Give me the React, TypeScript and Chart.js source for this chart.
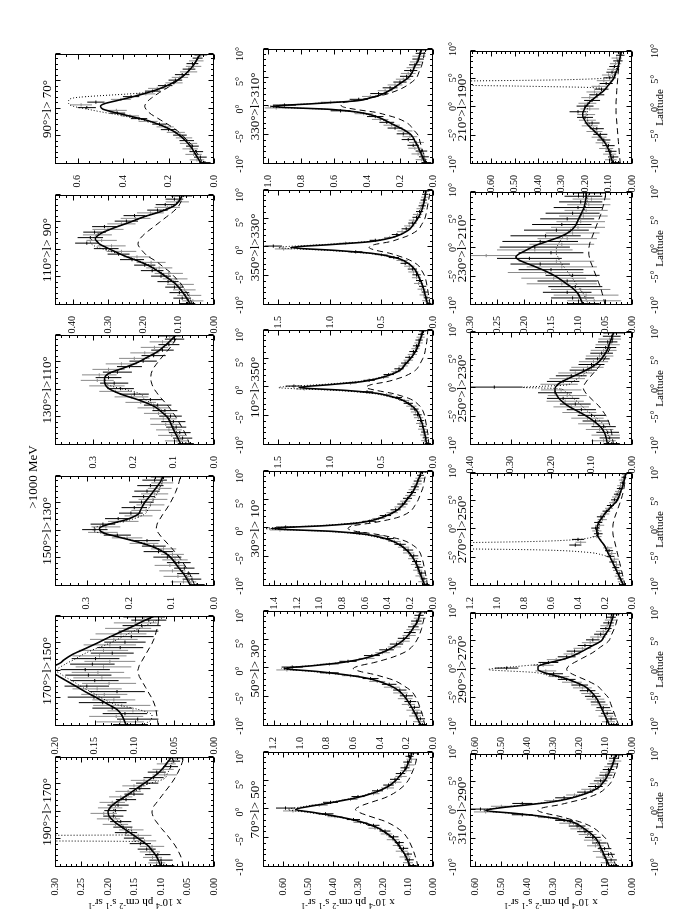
import React, { useEffect, useRef } from 'react';
import { Chart, registerables } from 'chart.js';

Chart.register(...registerables);

const FONT = "'Liberation Serif', 'Times New Roman', serif";
const INK = '#000000';
const GREY = '#8a8a8a';

// ---------- axis values ----------
const LAT_MIN = -10;
const LAT_MAX = 10;
const LAT_C = [-10, -9, -8, -7, -6, -5, -4, -3, -2, -1.5, -1, -0.5, 0, 0.5, 1, 1.5, 2, 3, 4, 5, 6, 7, 8, 9, 10];
const LAT_D = [-9.75, -9.25, -8.75, -8.25, -7.75, -7.25, -6.75, -6.25, -5.75, -5.25, -4.75, -4.25, -3.75, -3.25, -2.75, -2.25, -1.75, -1.25, -0.75, -0.25,
  0.25, 0.75, 1.25, 1.75, 2.25, 2.75, 3.25, 3.75, 4.25, 4.75, 5.25, 5.75, 6.25, 6.75, 7.25, 7.75, 8.25, 8.75, 9.25, 9.75];

const TITLES = ['190°>l>170°', '170°>l>150°', '150°>l>130°', '130°>l>110°', '110°>l> 90°', '90°>l> 70°',
  '70°>l> 50°', '50°>l> 30°', '30°>l> 10°', '10°>l>350°', '350°>l>330°', '330°>l>310°',
  '310°>l>290°', '290°>l>270°', '270°>l>250°', '250°>l>230°', '230°>l>210°', '210°>l>190°'];
const Y_MAX = [0.30, 0.20, 0.375, 0.395, 0.45, 0.70, 0.68, 1.28, 1.5, 1.65, 1.65, 1.03, 0.62, 0.62, 1.2, 0.40, 0.30, 0.69];
const Y_STEP = [0.05, 0.05, 0.1, 0.1, 0.1, 0.2, 0.1, 0.2, 0.2, 0.5, 0.5, 0.2, 0.1, 0.1, 0.2, 0.1, 0.05, 0.1];
const Y_MINOR = [0.01, 0.01, 0.02, 0.02, 0.02, 0.05, 0.02, 0.05, 0.05, 0.1, 0.1, 0.05, 0.02, 0.02, 0.05, 0.02, 0.01, 0.02];
const Y_DEC = [2, 2, 1, 1, 2, 1, 2, 1, 1, 1, 1, 1, 2, 2, 1, 2, 2, 2];

// ---------- model curves (solid), component (dashed), component (dotted) ----------
const SOLID_1 = [.100,.104,.109,.117,.126,.140,.155,.170,.185,.191,.196,.199,.200,.198,.194,.188,.181,.165,.150,.135,.120,.106,.096,.088,.080];
const DASH_1 = [.058,.060,.063,.068,.074,.082,.090,.099,.107,.111,.114,.116,.117,.116,.114,.110,.106,.098,.090,.082,.075,.069,.064,.060,.057];
const DOTX_1 = [-10,-9,-8,-7,-6,-5.6,-5.35,-5.2,-4.3,-4.15,-3.8,-3,-2,-1,0,1,2,3,4,5,5.5,6,7,8,9,10];
const DOT_1 = [.100,.104,.108,.115,.125,.135,.150,.40,.40,.150,.150,.165,.178,.186,.190,.186,.177,.162,.145,.128,.110,.095,.088,.083,.079,.075];

const SOLID_2 = [.110,.113,.116,.122,.134,.146,.159,.171,.183,.189,.195,.201,.215,.212,.200,.193,.189,.178,.163,.148,.134,.119,.104,.090,.075];
const DASH_2 = [.070,.071,.072,.073,.075,.078,.082,.086,.090,.092,.094,.095,.096,.095,.094,.092,.090,.086,.082,.078,.075,.073,.071,.070,.069];
const DOT_2 = [.095,.080,.078,.095,.125,.140,.152,.165,.176,.182,.188,.193,.198,.196,.190,.184,.177,.165,.150,.132,.118,.105,.090,.075,.060];

const SOLID_3 = [.055,.062,.070,.080,.090,.100,.115,.140,.180,.205,.230,.255,.268,.270,.258,.235,.210,.180,.172,.165,.155,.145,.135,.126,.120];
const DASH_3 = [.045,.050,.056,.063,.071,.080,.090,.101,.113,.119,.125,.130,.134,.136,.135,.133,.129,.121,.112,.104,.097,.091,.086,.082,.079];
const DOT_3 = [.050,.058,.066,.076,.087,.098,.112,.137,.175,.200,.228,.258,.285,.285,.262,.232,.200,.165,.155,.148,.140,.133,.127,.122,.118];

const SOLID_4 = [.082,.088,.095,.102,.108,.115,.130,.148,.180,.200,.222,.240,.255,.265,.270,.272,.272,.262,.225,.190,.165,.140,.123,.108,.095];
const DASH_4 = [.060,.065,.071,.078,.086,.094,.103,.113,.125,.131,.137,.142,.147,.151,.154,.156,.157,.156,.150,.140,.129,.117,.106,.097,.090];
const DOT_4 = [.075,.082,.090,.098,.105,.112,.125,.140,.165,.175,.178,.190,.215,.245,.265,.270,.270,.258,.225,.190,.162,.138,.120,.106,.094];

const SOLID_5 = [.066,.075,.085,.097,.112,.133,.155,.180,.215,.236,.256,.273,.290,.306,.322,.330,.336,.320,.284,.240,.200,.150,.114,.097,.090];
const DASH_5 = [.060,.067,.075,.085,.095,.110,.125,.145,.165,.178,.190,.198,.205,.211,.215,.214,.210,.195,.175,.155,.135,.115,.100,.092,.085];
const DOT_5 = [.062,.072,.082,.094,.108,.128,.150,.175,.210,.232,.255,.280,.305,.330,.345,.350,.345,.325,.285,.240,.198,.155,.120,.100,.092];

const SOLID_6 = [.055,.070,.085,.100,.120,.145,.180,.230,.300,.350,.400,.450,.490,.500,.480,.430,.380,.290,.220,.170,.135,.110,.090,.075,.060];
const DASH_6 = [.050,.060,.075,.090,.110,.135,.160,.195,.235,.255,.275,.290,.300,.305,.300,.290,.275,.240,.200,.165,.135,.110,.090,.075,.065];
const DOT_6 = [.052,.068,.083,.098,.118,.142,.178,.230,.310,.370,.430,.500,.560,.620,.640,.640,.620,.300,.225,.175,.138,.110,.090,.075,.060];

const SOLID_7 = [.090,.100,.110,.125,.140,.160,.190,.230,.300,.350,.410,.480,.550,.500,.430,.370,.310,.230,.180,.150,.130,.110,.100,.090,.085];
const DASH_7 = [.060,.065,.072,.080,.090,.102,.120,.150,.195,.230,.265,.295,.310,.295,.265,.230,.195,.150,.120,.100,.088,.078,.070,.065,.060];
const DOT_7 = [.092,.102,.113,.128,.145,.165,.196,.240,.310,.360,.420,.500,.580,.520,.440,.380,.320,.235,.185,.152,.130,.112,.100,.090,.085];

const SOLID_8 = [.090,.110,.130,.155,.180,.210,.250,.320,.440,.540,.690,.880,1.12,.900,.700,.570,.480,.360,.280,.220,.180,.150,.120,.105,.090];
const DASH_8 = [.060,.070,.080,.095,.110,.130,.160,.220,.300,.370,.450,.550,.600,.550,.450,.370,.300,.200,.150,.120,.100,.085,.075,.065,.060];
const DOT_8 = [.090,.110,.130,.155,.180,.210,.250,.320,.440,.550,.710,.920,1.14,.920,.710,.570,.480,.360,.280,.220,.180,.150,.120,.105,.090];

const SOLID_9 = [.070,.090,.110,.130,.150,.180,.220,.280,.380,.470,.600,.880,1.43,.950,.650,.520,.440,.330,.270,.230,.190,.160,.140,.120,.100];
const DASH_9 = [.050,.055,.065,.075,.085,.100,.120,.170,.270,.370,.500,.680,.750,.700,.530,.400,.300,.200,.160,.130,.110,.090,.080,.070,.060];
const DOT_9 = [.075,.095,.115,.135,.155,.185,.225,.290,.400,.500,.640,.950,1.48,1.00,.680,.540,.450,.340,.280,.235,.195,.165,.140,.120,.100];

const SOLID_10 = [.060,.070,.080,.095,.110,.130,.160,.220,.320,.420,.550,.850,1.30,1.00,.700,.550,.450,.320,.270,.220,.180,.150,.130,.110,.100];
const DASH_10 = [.040,.045,.050,.060,.070,.080,.100,.140,.220,.300,.400,.550,.650,.600,.450,.350,.270,.170,.130,.100,.080,.070,.060,.055,.050];
const DOT_10 = [.060,.070,.080,.095,.110,.130,.165,.230,.340,.450,.600,.950,1.50,1.10,.750,.580,.470,.330,.270,.220,.180,.150,.130,.110,.100];

const SOLID_11 = [.050,.065,.080,.095,.115,.140,.170,.220,.320,.430,.600,.950,1.38,1.00,.620,.450,.350,.240,.190,.150,.120,.100,.085,.075,.070];
const DASH_11 = [.030,.035,.045,.055,.065,.080,.110,.150,.250,.330,.420,.550,.620,.570,.420,.330,.250,.150,.110,.080,.065,.055,.045,.035,.030];
const DOT_11 = [.050,.065,.080,.095,.115,.140,.170,.225,.330,.450,.640,1.02,1.50,1.08,.660,.470,.360,.245,.190,.150,.120,.100,.085,.075,.070];

const SOLID_12 = [.045,.060,.075,.090,.110,.130,.180,.250,.320,.370,.450,.620,.980,.720,.460,.380,.320,.250,.200,.150,.125,.110,.090,.080,.070];
const DASH_12 = [.040,.050,.060,.070,.080,.090,.120,.150,.220,.280,.350,.470,.550,.560,.480,.380,.300,.200,.140,.100,.085,.070,.060,.055,.050];
const DOT_12 = [.050,.065,.080,.095,.115,.135,.185,.255,.330,.380,.460,.640,1.00,.740,.470,.385,.325,.255,.200,.155,.128,.110,.092,.082,.072];

const SOLID_13 = [.085,.095,.105,.115,.125,.137,.160,.190,.230,.280,.350,.450,.560,.500,.400,.310,.250,.176,.130,.110,.095,.085,.075,.068,.060];
const DASH_13 = [.060,.068,.076,.085,.092,.100,.122,.150,.200,.240,.280,.330,.360,.340,.280,.235,.190,.130,.100,.080,.070,.062,.056,.052,.050];
const DOT_13 = [.090,.100,.110,.120,.132,.145,.170,.200,.245,.290,.360,.460,.570,.510,.410,.320,.260,.185,.140,.115,.100,.088,.078,.070,.062];

const SOLID_14 = [.085,.095,.105,.115,.125,.137,.155,.180,.230,.260,.300,.340,.360,.360,.335,.290,.250,.200,.160,.120,.105,.090,.082,.075,.070];
const DASH_14 = [.050,.058,.066,.074,.082,.090,.110,.130,.170,.195,.220,.240,.250,.245,.230,.210,.190,.150,.120,.090,.080,.070,.062,.056,.050];
const DOT_14 = [.085,.095,.105,.115,.125,.137,.155,.180,.230,.270,.320,.380,.550,.450,.340,.290,.250,.200,.160,.120,.105,.090,.082,.075,.070];

const SOLID_15 = [.060,.080,.100,.120,.140,.160,.180,.200,.230,.245,.255,.260,.260,.258,.250,.240,.225,.195,.155,.115,.095,.080,.065,.055,.045];
const DASH_15 = [.050,.060,.070,.080,.090,.100,.110,.120,.130,.135,.140,.142,.143,.142,.140,.135,.130,.115,.100,.085,.072,.062,.055,.050,.045];
const DOTX_15 = [-10,-8,-6,-5,-4.5,-4,-3.6,-3.3,-2.5,-2.1,-1.8,-1.5,-1,0,1,2,3,4,5,6,8,10];
const DOT_15 = [.060,.100,.140,.170,.220,.350,.700,1.50,1.50,.700,.420,.320,.260,.250,.240,.215,.190,.150,.110,.090,.065,.045];

const SOLID_16 = [.060,.063,.067,.075,.090,.110,.135,.160,.177,.183,.187,.190,.190,.186,.178,.165,.150,.120,.095,.078,.068,.060,.055,.050,.045];
const DASH_16 = [.045,.048,.050,.053,.057,.063,.072,.083,.098,.105,.112,.117,.120,.119,.115,.110,.104,.092,.080,.070,.062,.055,.050,.047,.045];
const DOTX_16 = [-10,-8,-6,-4,-3,-2,-1,-0.5,0,0.2,0.4,0.6,1,2,3,4,6,8,10];
const DOT_16 = [.055,.060,.075,.110,.125,.140,.155,.165,.185,.270,.220,.165,.150,.130,.110,.090,.070,.055,.045];

const SOLID_17 = [.090,.095,.100,.110,.125,.140,.160,.185,.210,.215,.210,.200,.190,.180,.165,.150,.135,.115,.105,.100,.095,.090,.087,.085,.085];
const DASH_17 = [.050,.052,.055,.058,.062,.066,.070,.074,.078,.079,.080,.080,.080,.079,.078,.076,.074,.070,.066,.062,.058,.055,.052,.050,.048];
const DOT_17 = [.080,.085,.090,.098,.105,.112,.120,.128,.135,.137,.140,.140,.140,.138,.135,.132,.128,.118,.108,.100,.093,.088,.084,.082,.080];

const SOLID_18 = [.080,.088,.095,.105,.120,.140,.165,.190,.205,.210,.210,.205,.200,.190,.180,.165,.150,.120,.100,.080,.070,.060,.055,.050,.045];
const DASH_18 = [.050,.052,.054,.056,.058,.060,.062,.064,.066,.067,.068,.068,.068,.068,.068,.067,.066,.065,.063,.061,.059,.057,.054,.052,.050];
const DOTX_18 = [-10,-8,-6,-4,-2,0,1,2,3,3.5,3.8,4.0,4.6,4.9,5.3,6,8,10];
const DOT_18 = [.075,.090,.115,.155,.190,.190,.175,.150,.130,.160,.500,.800,.800,.300,.100,.075,.055,.045];

// ---------- measured intensities and their errors (at LAT_D) ----------
const DATA_1 = [.095,.108,.100,.116,.106,.121,.127,.117,.139,.131,.151,.143,.166,.156,.172,.186,.176,.199,.190,.208,.186,.196,.181,.192,.166,.176,.151,.162,.140,.151,.126,.132,.114,.093,.108,.096,.082,.090,.076,.072];
const ERR_1 = [.020,.016,.022,.018,.024,.019,.017,.023,.020,.022,.019,.025,.021,.023,.018,.024,.020,.022,.019,.025,.021,.023,.020,.024,.019,.022,.018,.024,.020,.022,.021,.025,.019,.023,.017,.020,.014,.018,.012,.015];
const DATA_2 = [.105,.118,.096,.123,.112,.102,.128,.116,.140,.126,.151,.138,.122,.147,.160,.132,.150,.141,.158,.146,.162,.139,.153,.131,.149,.144,.128,.139,.118,.131,.112,.126,.104,.117,.095,.108,.091,.099,.082,.088];
const ERR_2 = [.022,.030,.026,.034,.028,.032,.025,.036,.030,.027,.033,.029,.035,.031,.028,.034,.030,.036,.029,.033,.031,.035,.028,.032,.030,.034,.027,.031,.029,.033,.026,.030,.028,.032,.025,.029,.024,.027,.022,.026];
const DATA_3 = [.040,.072,.052,.085,.061,.098,.070,.104,.083,.092,.110,.098,.131,.119,.142,.165,.158,.205,.228,.262,.281,.255,.262,.214,.226,.178,.196,.160,.188,.150,.171,.144,.166,.140,.158,.128,.150,.122,.140,.125];
const ERR_3 = [.018,.030,.022,.034,.026,.031,.024,.036,.028,.030,.033,.027,.035,.030,.028,.034,.030,.036,.032,.035,.030,.034,.029,.036,.031,.033,.028,.035,.030,.033,.029,.034,.027,.032,.030,.028,.031,.026,.029,.024];
const DATA_4 = [.070,.092,.078,.105,.085,.112,.094,.120,.101,.126,.108,.138,.122,.150,.140,.182,.158,.205,.198,.245,.232,.266,.248,.290,.262,.285,.240,.262,.210,.230,.176,.198,.150,.172,.128,.148,.112,.128,.098,.110];
const ERR_4 = [.020,.030,.024,.034,.027,.032,.025,.038,.030,.033,.028,.036,.031,.040,.034,.038,.030,.042,.036,.040,.033,.044,.035,.041,.032,.043,.036,.040,.031,.039,.034,.038,.030,.036,.028,.034,.026,.032,.024,.028];
const DATA_5 = [.075,.060,.090,.070,.098,.084,.112,.095,.130,.110,.150,.128,.175,.155,.196,.178,.232,.218,.270,.262,.305,.290,.360,.318,.350,.330,.338,.300,.310,.262,.248,.222,.225,.180,.160,.132,.138,.104,.112,.092];
const ERR_5 = [.022,.030,.025,.034,.028,.032,.026,.038,.030,.035,.028,.040,.032,.037,.030,.041,.034,.038,.031,.042,.035,.040,.033,.043,.036,.041,.032,.044,.035,.040,.033,.042,.031,.038,.029,.036,.027,.033,.025,.030];
const DATA_6 = [.040,.075,.060,.090,.078,.105,.095,.112,.120,.132,.150,.168,.200,.215,.240,.290,.330,.370,.425,.430,.560,.585,.520,.410,.365,.300,.270,.250,.215,.176,.170,.150,.140,.112,.110,.090,.095,.078,.072,.058];
const ERR_6 = [.025,.032,.028,.036,.030,.034,.028,.038,.032,.036,.030,.040,.034,.038,.032,.042,.036,.040,.034,.046,.040,.048,.038,.044,.036,.042,.034,.040,.032,.038,.030,.036,.032,.038,.028,.034,.026,.032,.022,.028];
const DATA_7 = [.080,.100,.095,.112,.100,.125,.118,.140,.135,.160,.158,.186,.192,.232,.238,.290,.318,.392,.430,.560,.590,.455,.410,.330,.300,.238,.222,.182,.178,.150,.152,.128,.130,.108,.112,.095,.102,.086,.094,.080];
const ERR_7 = [.015,.020,.018,.022,.016,.024,.019,.021,.018,.025,.020,.023,.022,.026,.024,.028,.026,.030,.032,.040,.038,.034,.030,.028,.026,.024,.022,.026,.021,.024,.020,.023,.019,.022,.018,.021,.017,.020,.016,.019];
const DATA_8 = [.080,.110,.095,.135,.120,.150,.140,.185,.170,.210,.200,.245,.250,.310,.330,.420,.470,.620,.780,1.10,1.06,.780,.640,.500,.460,.380,.350,.290,.275,.225,.220,.180,.175,.150,.148,.122,.125,.100,.105,.085];
const ERR_8 = [.03,.04,.035,.045,.04,.05,.04,.05,.045,.055,.05,.055,.05,.06,.055,.06,.06,.065,.07,.08,.08,.07,.065,.06,.06,.055,.055,.05,.05,.05,.045,.05,.045,.05,.04,.045,.04,.045,.035,.04];
const DATA_9 = [.060,.095,.080,.115,.100,.135,.125,.150,.145,.175,.170,.215,.220,.260,.290,.340,.400,.500,.650,1.35,1.30,.720,.560,.480,.420,.360,.330,.290,.270,.245,.225,.200,.190,.170,.160,.140,.135,.115,.110,.095];
const ERR_9 = [.03,.035,.03,.04,.035,.04,.035,.045,.04,.045,.04,.05,.045,.05,.05,.055,.055,.06,.065,.09,.085,.065,.06,.055,.05,.05,.045,.05,.045,.045,.04,.045,.04,.045,.035,.04,.035,.04,.03,.035];
const DATA_10 = [.050,.080,.070,.090,.085,.105,.100,.125,.120,.140,.150,.170,.180,.210,.240,.280,.350,.450,.640,1.25,1.35,.800,.620,.480,.430,.360,.330,.290,.270,.240,.230,.200,.190,.170,.160,.140,.135,.120,.115,.100];
const ERR_10 = [.03,.035,.03,.035,.03,.04,.035,.04,.035,.045,.04,.045,.04,.05,.045,.05,.05,.055,.06,.08,.08,.06,.055,.05,.05,.045,.045,.045,.04,.045,.04,.045,.04,.04,.035,.04,.035,.04,.03,.035];
const DATA_11 = [.040,.070,.060,.090,.080,.110,.100,.140,.130,.160,.160,.190,.200,.230,.270,.300,.380,.500,.750,1.45,1.55,.850,.560,.420,.350,.300,.260,.230,.200,.190,.160,.150,.130,.120,.105,.095,.090,.080,.075,.065];
const ERR_11 = [.025,.035,.03,.04,.03,.04,.035,.045,.035,.045,.04,.05,.045,.05,.045,.055,.05,.06,.065,.085,.085,.065,.055,.055,.05,.05,.045,.05,.04,.045,.04,.045,.035,.04,.035,.04,.03,.035,.03,.03];
const DATA_12 = [.040,.070,.055,.090,.070,.110,.120,.100,.150,.140,.180,.170,.230,.250,.280,.320,.350,.420,.560,.950,.900,.620,.450,.380,.330,.290,.260,.230,.200,.180,.160,.150,.135,.120,.110,.100,.090,.085,.075,.070];
const ERR_12 = [.03,.035,.03,.04,.035,.04,.035,.045,.04,.045,.04,.045,.045,.05,.045,.05,.05,.055,.06,.07,.07,.06,.055,.05,.05,.045,.045,.045,.04,.045,.04,.045,.04,.04,.035,.04,.035,.04,.03,.035];
const DATA_13 = [.070,.095,.080,.110,.090,.120,.105,.140,.125,.150,.150,.170,.180,.200,.210,.240,.260,.320,.420,.560,.580,.500,.420,.300,.260,.220,.180,.160,.140,.130,.120,.110,.100,.095,.090,.080,.075,.065,.070,.060];
const ERR_13 = [.02,.025,.022,.028,.024,.03,.026,.032,.028,.034,.03,.034,.03,.036,.032,.038,.034,.04,.04,.045,.045,.04,.038,.036,.034,.032,.03,.034,.028,.032,.026,.03,.025,.028,.022,.026,.02,.024,.018,.022];
const DATA_14 = [.070,.090,.080,.100,.095,.110,.110,.125,.130,.140,.150,.160,.170,.190,.200,.230,.250,.280,.300,.330,.480,.340,.320,.290,.250,.230,.220,.190,.180,.160,.150,.130,.120,.110,.100,.095,.090,.080,.080,.070];
const ERR_14 = [.02,.025,.022,.028,.024,.03,.026,.032,.028,.034,.03,.034,.03,.036,.032,.038,.034,.04,.036,.04,.045,.04,.038,.036,.034,.032,.03,.034,.028,.032,.026,.03,.025,.028,.022,.026,.02,.024,.018,.022];
const DATA_15 = [.070,.080,.085,.100,.095,.110,.120,.115,.140,.130,.160,.150,.170,.180,.420,.380,.400,.260,.250,.260,.270,.240,.250,.220,.230,.200,.190,.170,.160,.140,.130,.120,.110,.100,.090,.085,.070,.075,.060,.055];
const ERR_15 = [.02,.025,.022,.028,.025,.03,.026,.03,.028,.032,.03,.032,.03,.034,.045,.04,.045,.034,.032,.034,.032,.034,.03,.034,.03,.032,.028,.03,.026,.03,.025,.028,.024,.026,.022,.024,.02,.022,.018,.02];
const DATA_16 = [.050,.070,.055,.065,.060,.080,.070,.095,.090,.110,.100,.130,.125,.150,.140,.165,.170,.160,.190,.175,.340,.180,.170,.160,.150,.140,.120,.110,.100,.095,.085,.080,.075,.070,.065,.060,.060,.055,.050,.045];
const ERR_16 = [.02,.03,.025,.035,.028,.034,.03,.038,.032,.04,.034,.042,.036,.044,.038,.046,.04,.048,.042,.05,.07,.046,.04,.044,.038,.042,.034,.04,.032,.036,.03,.034,.028,.032,.026,.03,.024,.028,.022,.026];
const DATA_17 = [.090,.070,.110,.085,.120,.095,.105,.130,.120,.145,.110,.160,.150,.130,.170,.140,.190,.270,.150,.180,.180,.130,.170,.120,.160,.110,.140,.100,.130,.095,.120,.090,.110,.085,.100,.080,.095,.075,.090,.080];
const ERR_17 = [.03,.05,.04,.06,.045,.055,.05,.065,.055,.06,.05,.07,.06,.065,.055,.07,.06,.055,.06,.07,.065,.06,.07,.055,.065,.05,.06,.05,.055,.045,.05,.045,.05,.04,.045,.04,.04,.035,.035,.03];
const DATA_18 = [.070,.090,.080,.095,.090,.110,.100,.125,.120,.140,.135,.160,.150,.180,.170,.190,.200,.195,.230,.180,.200,.190,.170,.180,.150,.160,.130,.140,.110,.120,.095,.100,.085,.080,.075,.070,.060,.065,.050,.055];
const ERR_18 = [.02,.025,.022,.028,.024,.03,.026,.03,.028,.032,.03,.034,.03,.034,.032,.036,.034,.038,.036,.04,.036,.038,.034,.036,.032,.034,.03,.032,.028,.03,.026,.028,.024,.026,.022,.024,.02,.022,.018,.02];

const SOLID = [SOLID_1, SOLID_2, SOLID_3, SOLID_4, SOLID_5, SOLID_6, SOLID_7, SOLID_8, SOLID_9, SOLID_10, SOLID_11, SOLID_12, SOLID_13, SOLID_14, SOLID_15, SOLID_16, SOLID_17, SOLID_18];
const DASH = [DASH_1, DASH_2, DASH_3, DASH_4, DASH_5, DASH_6, DASH_7, DASH_8, DASH_9, DASH_10, DASH_11, DASH_12, DASH_13, DASH_14, DASH_15, DASH_16, DASH_17, DASH_18];
const DOT = [DOT_1, DOT_2, DOT_3, DOT_4, DOT_5, DOT_6, DOT_7, DOT_8, DOT_9, DOT_10, DOT_11, DOT_12, DOT_13, DOT_14, DOT_15, DOT_16, DOT_17, DOT_18];
const DOTX = [DOTX_1, LAT_C, LAT_C, LAT_C, LAT_C, LAT_C, LAT_C, LAT_C, LAT_C, LAT_C, LAT_C, LAT_C, LAT_C, LAT_C, DOTX_15, DOTX_16, LAT_C, DOTX_18];
const DATA = [DATA_1, DATA_2, DATA_3, DATA_4, DATA_5, DATA_6, DATA_7, DATA_8, DATA_9, DATA_10, DATA_11, DATA_12, DATA_13, DATA_14, DATA_15, DATA_16, DATA_17, DATA_18];
const ERR = [ERR_1, ERR_2, ERR_3, ERR_4, ERR_5, ERR_6, ERR_7, ERR_8, ERR_9, ERR_10, ERR_11, ERR_12, ERR_13, ERR_14, ERR_15, ERR_16, ERR_17, ERR_18];

// ---------- layout (original landscape figure, later turned a quarter-turn) ----------
const FIG_W = 920;
const FIG_H = 692;
const COL_LEFT = [53, 194, 334, 475, 615, 756];
const COL_W = 115;
const ROW_TOP = [55, 263, 470];
const ROW_H = [159, 170, 162];
const X_LABEL_PAD = [12, 6, 9];
const AX_W = 40;
const TITLE_H = 16;
const PAD_R = 14;
const AX_H = 40;

const frameTicks = {
  id: 'frameTicks',
  afterDatasetsDraw(chart: any, _args: any, opts: any) {
    const { ctx, chartArea: a } = chart;
    const xs = chart.scales.x;
    const ys = chart.scales.y;
    const l = Math.round(a.left) + 0.5;
    const r = Math.round(a.right) - 0.5;
    const t = Math.round(a.top) + 0.5;
    const b = Math.round(a.bottom) - 0.5;
    ctx.save();
    ctx.strokeStyle = INK;
    ctx.lineWidth = 1;
    ctx.setLineDash([]);
    ctx.strokeRect(l, t, r - l, b - t);
    ctx.beginPath();
    const nx = Math.round((xs.max - xs.min) / opts.xMinor);
    for (let k = 0; k <= nx; k++) {
      const v = xs.min + k * opts.xMinor;
      const px = Math.round(xs.getPixelForValue(v)) + 0.5;
      const major = Math.abs(v / opts.xMajor - Math.round(v / opts.xMajor)) < 1e-6;
      const len = major ? 5 : 2.5;
      ctx.moveTo(px, b); ctx.lineTo(px, b - len);
      ctx.moveTo(px, t); ctx.lineTo(px, t + len);
    }
    const ny = Math.floor(ys.max / opts.yMinor + 1e-6);
    for (let k = 0; k <= ny; k++) {
      const v = k * opts.yMinor;
      const py = Math.round(ys.getPixelForValue(v)) + 0.5;
      const major = Math.abs(v / opts.yMajor - Math.round(v / opts.yMajor)) < 1e-6;
      const len = major ? 5 : 2.5;
      ctx.moveTo(l, py); ctx.lineTo(l + len, py);
      ctx.moveTo(r, py); ctx.lineTo(r - len, py);
    }
    ctx.stroke();
    ctx.restore();
  },
};

function makeConfig(i: number): any {
  const row = Math.floor(i / 6);
  const vals = DATA[i];
  const errs = ERR[i];
  const dec = Y_DEC[i];
  const pts = (xs: number[], ys: number[]) =>
    xs.map((x, k) => ({ x, y: ys[k] })).filter((p) => p.y !== undefined);
  const bars = (parity: number) => {
    const out: any[] = [];
    LAT_D.forEach((x, k) => {
      if (k % 2 !== parity || vals[k] === undefined) return;
      out.push({ x, y: vals[k] - errs[k] }, { x, y: vals[k] + errs[k] }, { x, y: null });
    });
    return out;
  };
  return {
    type: 'line',
    data: {
      datasets: [
        { label: 'model', data: pts(LAT_C, SOLID[i]), borderColor: INK, borderWidth: 1.6, pointRadius: 0, cubicInterpolationMode: 'monotone', fill: false },
        { label: 'component', data: pts(LAT_C, DASH[i]), borderColor: INK, borderWidth: 1, borderDash: [6, 4], pointRadius: 0, cubicInterpolationMode: 'monotone', fill: false },
        { label: 'component 2', data: pts(DOTX[i], DOT[i]), borderColor: INK, borderWidth: 1, borderDash: [1, 2], pointRadius: 0, cubicInterpolationMode: 'monotone', fill: false },
        { label: 'bins', data: pts(LAT_D, vals), showLine: false, pointStyle: 'line', pointRadius: 1.6, pointBorderWidth: 1,
          pointBorderColor: LAT_D.map((_, k) => (k % 2 ? GREY : INK)), pointBackgroundColor: LAT_D.map((_, k) => (k % 2 ? GREY : INK)) },
        { label: 'errors a', data: bars(0), borderColor: INK, borderWidth: 1, pointRadius: 0, spanGaps: false, fill: false },
        { label: 'errors b', data: bars(1), borderColor: GREY, borderWidth: 1, pointRadius: 0, spanGaps: false, fill: false },
      ],
    },
    options: {
      animation: false,
      responsive: false,
      devicePixelRatio: 1,
      events: [],
      layout: { padding: { left: 0, top: 0, right: PAD_R, bottom: 0 } },
      plugins: {
        legend: { display: false },
        tooltip: { enabled: false },
        title: {
          display: true, text: TITLES[i], color: INK, fullSize: false,
          font: { family: FONT, size: 13, lineHeight: 1, weight: 'normal' },
          padding: { top: 2, bottom: 1 },
        },
        frameTicks: { xMinor: 1, xMajor: 5, yMinor: Y_MINOR[i], yMajor: Y_STEP[i] },
      },
      scales: {
        x: {
          type: 'linear', min: LAT_MIN, max: LAT_MAX,
          grid: { display: false }, border: { display: false },
          ticks: { stepSize: 5, autoSkip: false, maxRotation: 0, includeBounds: false, padding: X_LABEL_PAD[row], color: INK,
            font: { family: FONT, size: 10 }, callback: (v: any) => `${v}°` },
          title: { display: row === 2, text: 'Latitude', color: INK, font: { family: FONT, size: 11 }, padding: { top: 0, bottom: 5 } },
          afterFit: (s: any) => { s.height = AX_H; },
        },
        y: {
          type: 'linear', min: 0, max: Y_MAX[i],
          grid: { display: false }, border: { display: false },
          ticks: { stepSize: Y_STEP[i], autoSkip: false, includeBounds: false, padding: 3, color: INK,
            font: { family: FONT, size: 10 }, callback: (v: any) => Number(v).toFixed(dec) },
          afterFit: (s: any) => { s.width = AX_W; },
        },
      },
    },
    plugins: [frameTicks],
  };
}

const supStyle: React.CSSProperties = { fontSize: 8, position: 'relative', top: -4 };

export default function App() {
  const refs = useRef<(HTMLCanvasElement | null)[]>([]);

  useEffect(() => {
    document.documentElement.style.overflow = 'hidden';
    const charts = TITLES.map((_, i) => new Chart(refs.current[i] as HTMLCanvasElement, makeConfig(i)));
    return () => charts.forEach((c) => c.destroy());
  }, []);

  return (
    <div
      style={{
        position: 'fixed', left: 0, top: 0, width: FIG_W, height: FIG_H,
        transformOrigin: '0 0', transform: `translate(0px, ${FIG_W}px) rotate(-90deg)`,
        background: '#ffffff', fontFamily: FONT, color: INK, overflow: 'hidden',
      }}
    >
      {TITLES.map((_, i) => {
        const row = Math.floor(i / 6);
        const col = i % 6;
        const w = AX_W + COL_W + PAD_R;
        const h = TITLE_H + ROW_H[row] + AX_H;
        return (
          <canvas
            key={i}
            ref={(el) => { refs.current[i] = el; }}
            width={w}
            height={h}
            style={{ position: 'absolute', left: COL_LEFT[col] - AX_W, top: ROW_TOP[row] - TITLE_H, width: w, height: h }}
          />
        );
      })}
      <div style={{ position: 'absolute', left: 343, top: 26, width: 200, textAlign: 'center', fontSize: 13, lineHeight: '14px', whiteSpace: 'nowrap' }}>
        &gt;1000 MeV
      </div>
      {ROW_TOP.map((t, r) => (
        <div
          key={r}
          style={{
            position: 'absolute', left: 18, top: t + ROW_H[r] / 2, whiteSpace: 'nowrap', fontSize: 11, lineHeight: '12px',
            transform: 'translate(-50%, -50%) rotate(-90deg)',
          }}
        >
          x 10<span style={supStyle}>-4</span> ph cm<span style={supStyle}>-2</span> s<span style={supStyle}>-1</span> sr<span style={supStyle}>-1</span>
        </div>
      ))}
    </div>
  );
}
